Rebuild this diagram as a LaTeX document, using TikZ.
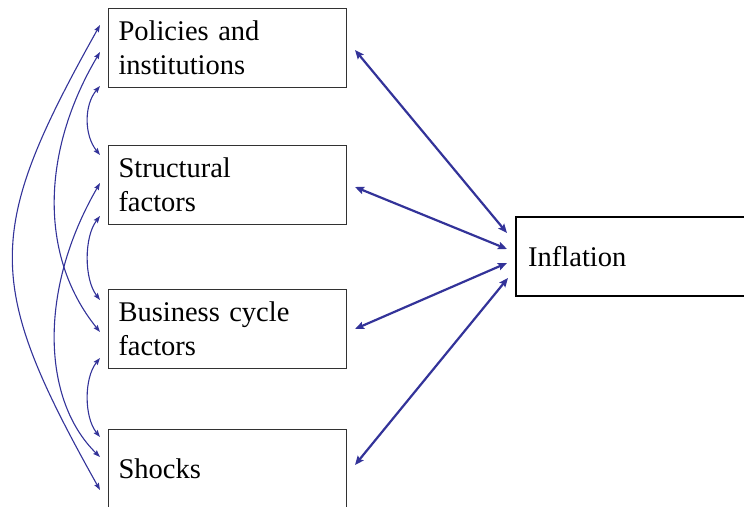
\documentclass[tikz,border=0pt]{standalone}
\usepackage{fontspec}
\newfontfamily\timesx{LiberationSerif}[Extension=.ttf, UprightFont=*-Regular]
\usetikzlibrary{arrows.meta}
\definecolor{arrblue}{RGB}{51,51,153}
\definecolor{boxgray}{RGB}{50,50,50}
\tikzset{
  factorbox/.style={draw=boxgray, line width=1pt, anchor=north west, minimum width=238pt,
    minimum height=79pt, text width=218pt, align=left, inner xsep=10pt, inner ysep=0pt,
    font=\timesx\fontsize{28.5}{34}\selectfont},
  inflbox/.style={draw=black, line width=2.4pt, anchor=north west, minimum width=260pt,
    minimum height=79pt, text width=236pt, align=left, inner xsep=12pt, inner ysep=0pt,
    font=\timesx\fontsize{28.5}{34}\selectfont},
  thinlink/.style={arrblue, line width=1.1pt, {Stealth[length=7pt,width=5pt,inset=1pt]}-{Stealth[length=7pt,width=5pt,inset=1pt]}},
  thicklink/.style={arrblue, line width=2.2pt, {Stealth[length=9pt,width=7.5pt,inset=1.5pt]}-{Stealth[length=9pt,width=7.5pt,inset=1.5pt]}}
}
\begin{document}
\begin{tikzpicture}[x=1pt,y=-1pt]
\useasboundingbox (0,0) rectangle (744,506);
\clip (0,0) rectangle (744,506);
\node[factorbox] (pol) at (108,8) {Policies and\\institutions};
\node[factorbox] (str) at (108,145) {Structural\\factors};
\node[factorbox] (bus) at (108,289) {Business cycle\\factors};
\node[factorbox] (sho) at (108,429) {Shocks};
\node[inflbox] (inf) at (515,216) {Inflation};

% left curved links
\draw[thinlink] ([xshift=-8pt,yshift=-78pt]pol.north west) .. controls (84,105) and (84,135) .. ([xshift=-8pt,yshift=-10pt]str.north west);
\draw[thinlink] ([xshift=-8pt,yshift=-71pt]str.north west) .. controls (84,237) and (84,279) .. ([xshift=-8pt,yshift=-11pt]bus.north west);
\draw[thinlink] ([xshift=-8pt,yshift=-69pt]bus.north west) .. controls (84,378) and (84,417) .. ([xshift=-8pt,yshift=-8pt]sho.north west);
\draw[thinlink] ([xshift=-8pt,yshift=-44pt]pol.north west) .. controls (42,150) and (38,255) .. ([xshift=-8pt,yshift=-43pt]bus.north west);
\draw[thinlink] ([xshift=-8pt,yshift=-38pt]str.north west) .. controls (38,290) and (42,400) .. ([xshift=-8pt,yshift=-28pt]sho.north west);
\draw[thinlink] ([xshift=-8pt,yshift=-17pt]pol.north west) .. controls (-16,232) and (-16,283) .. ([xshift=-8pt,yshift=-61pt]sho.north west);

% right straight links
\draw[thicklink] ([xshift=8pt,yshift=-42pt]pol.north east) -- ([xshift=-8pt,yshift=-17pt]inf.north west);
\draw[thicklink] ([xshift=8pt,yshift=-42pt]str.north east) -- ([xshift=-8pt,yshift=-33pt]inf.north west);
\draw[thicklink] ([xshift=8pt,yshift=-40pt]bus.north east) -- ([xshift=-8pt,yshift=-47pt]inf.north west);
\draw[thicklink] ([xshift=8pt,yshift=-36pt]sho.north east) -- ([xshift=-7pt,yshift=-62pt]inf.north west);
\end{tikzpicture}
\end{document}
